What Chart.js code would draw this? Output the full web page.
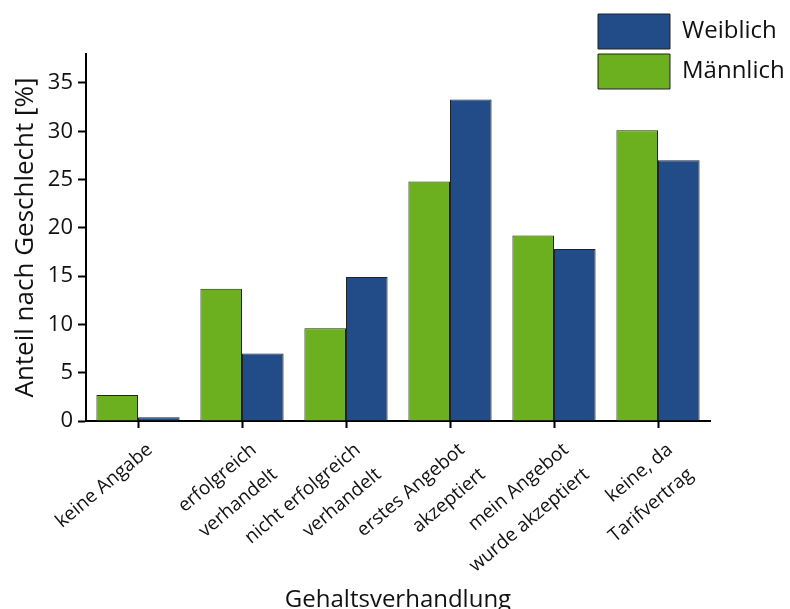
<!DOCTYPE html>
<html>
<head>
<meta charset="utf-8">
<script src="https://cdn.jsdelivr.net/npm/chart.js@4.4.1/dist/chart.umd.min.js"></script>
<style>
  html, body { margin: 0; padding: 0; background: #fff; }
</style>
</head>
<body>
<canvas id="myChart" width="790" height="609"></canvas>
<script>
// Daten
const categories = [
  'keine Angabe',
  ['erfolgreich', 'verhandelt'],
  ['nicht erfolgreich', 'verhandelt'],
  ['erstes Angebot', 'akzeptiert'],
  ['mein Angebot', 'wurde akzeptiert'],
  ['keine, da', 'Tarifvertrag']
];
const maennlich = [2.7, 13.7, 9.6, 24.8, 19.2, 30.1];
const weiblich = [0.4, 7.0, 14.9, 33.3, 17.8, 27.0];
const yTickValues = [0, 5, 10, 15, 20, 25, 30, 35];

const FONT = '"Open Sans", "DejaVu Sans", sans-serif';

// Legende oben rechts ueber die Grafik legen
const legendPlacer = {
  id: 'legendPlacer',
  afterLayout(chart) {
    const lg = chart.legend;
    const w = lg.width, h = lg.height;
    lg.left = 593;
    lg.top = 9;
    lg.right = lg.left + w;
    lg.bottom = lg.top + h;
  }
};

const chartData = {
  labels: categories,
  datasets: [
    {
      label: 'Männlich',
      data: maennlich,
      backgroundColor: '#6cb01f',
      borderColor: '#222222',
      borderWidth: 1
    },
    {
      label: 'Weiblich',
      data: weiblich,
      backgroundColor: '#214c87',
      borderColor: '#222222',
      borderWidth: 1
    }
  ]
};

const config = {
  type: 'bar',
  data: chartData,
  plugins: [legendPlacer],
  options: {
    responsive: false,
    animation: false,
    devicePixelRatio: 1,
    layout: { padding: { left: 0, top: 54, right: 80, bottom: 0 } },
    datasets: {
      bar: { categoryPercentage: 0.8, barPercentage: 1.0 }
    },
    plugins: {
      tooltip: { enabled: false },
      legend: {
        position: 'chartArea',
        align: 'start',
        reverse: true,
        labels: {
          boxWidth: 72,
          boxHeight: 35,
          padding: 5,
          color: '#111',
          font: { family: FONT, size: 24 }
        }
      }
    },
    scales: {
      x: {
        afterFit: scale => { scale.height = 188; },
        grid: {
          offset: false,
          drawOnChartArea: false,
          tickLength: 7,
          tickWidth: 2,
          color: '#000'
        },
        border: { display: true, color: '#000', width: 2 },
        ticks: {
          autoSkip: false,
          minRotation: 40,
          maxRotation: 40,
          padding: 7,
          labelOffset: 12,
          color: '#111',
          font: { family: FONT, size: 19, lineHeight: 1.7 }
        },
        title: {
          display: true,
          text: 'Gehaltsverhandlung',
          color: '#111',
          font: { family: FONT, size: 24 },
          padding: { top: 0, bottom: -6 }
        }
      },
      y: {
        min: 0,
        max: 38,
        afterFit: scale => { scale.width = 86; },
        afterBuildTicks: scale => {
          scale.ticks = yTickValues.map(v => ({ value: v }));
        },
        grid: {
          drawOnChartArea: false,
          tickLength: 8,
          tickWidth: 2,
          color: '#000'
        },
        border: { display: true, color: '#000', width: 2 },
        ticks: {
          padding: 5,
          color: '#111',
          font: { family: FONT, size: 22 }
        },
        title: {
          display: true,
          text: 'Anteil nach Geschlecht [%]',
          color: '#111',
          font: { family: FONT, size: 26 },
          padding: { top: 10, bottom: 0 }
        }
      }
    }
  }
};

new Chart(document.getElementById('myChart').getContext('2d'), config);
</script>
</body>
</html>
